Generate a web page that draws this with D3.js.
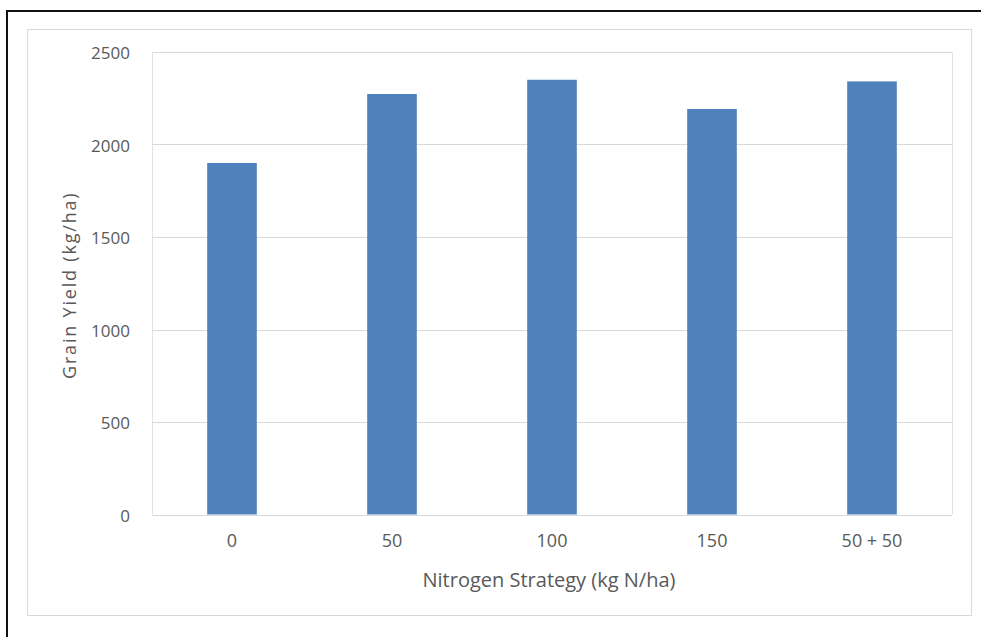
<!DOCTYPE html>
<html>
<head>
<meta charset="utf-8">
<script src="https://cdn.jsdelivr.net/npm/d3@7/dist/d3.min.js"></script>
<style>
  html, body { margin: 0; padding: 0; background: #fff; }
  svg { display: block; }
  text { font-family: "Open Sans", "Liberation Sans", sans-serif; fill: #595959; }
</style>
</head>
<body>
<div id="chart"></div>
<script>
// Grain yield by nitrogen strategy
const categories = ["0", "50", "100", "150", "50 + 50"];
const yieldValues = [1900, 2273, 2350, 2192, 2341];
const yTicks = [0, 500, 1000, 1500, 2000, 2500];
const xTitle = "Nitrogen Strategy (kg N/ha)";
const yTitle = "Grain Yield (kg/ha)";

const W = 981, H = 637;
const plot = { left: 152, right: 952, top: 52, bottom: 514.5 };
const fontStack = '"Open Sans", "Liberation Sans", sans-serif';

const svg = d3.select("#chart").append("svg")
  .attr("width", W).attr("height", H);

// Outer frame
svg.append("path")
  .attr("d", `M7,${H} V11 H${W}`)
  .attr("fill", "none").attr("stroke", "#111").attr("stroke-width", 2);

// Chart area border
svg.append("rect")
  .attr("x", 27.5).attr("y", 29.5).attr("width", 944).attr("height", 586)
  .attr("fill", "#fff").attr("stroke", "#d9d9d9").attr("stroke-width", 1);

const x = d3.scaleBand().domain(categories)
  .range([plot.left, plot.right]).paddingInner(0.69).paddingOuter(0.345);
const y = d3.scaleLinear().domain([0, 2500]).range([plot.bottom, plot.top]);

// Plot area side borders
svg.append("g").selectAll("line").data([plot.left, plot.right]).join("line")
  .attr("x1", d => d + 0.5).attr("x2", d => d + 0.5)
  .attr("y1", plot.top).attr("y2", plot.bottom)
  .attr("stroke", "#e3e3e3");

// Gridlines
svg.append("g").selectAll("line").data(yTicks).join("line")
  .attr("x1", plot.left).attr("x2", plot.right)
  .attr("y1", d => Math.round(y(d)) + 0.5).attr("y2", d => Math.round(y(d)) + 0.5)
  .attr("stroke", "#d9d9d9").attr("stroke-width", 1);

// Bars
svg.append("g").selectAll("rect").data(categories).join("rect")
  .attr("x", d => x(d))
  .attr("width", x.bandwidth())
  .attr("y", (d, i) => y(yieldValues[i]))
  .attr("height", (d, i) => y(0) - y(yieldValues[i]))
  .attr("fill", "#4f81bd");

// Y axis labels
const yAxis = d3.axisLeft(y).tickValues(yTicks).tickSize(0).tickPadding(0)
  .tickFormat(d3.format("d"));
const gy = svg.append("g").attr("transform", `translate(130,1.5)`).call(yAxis);
gy.select(".domain").remove();
gy.selectAll("text").attr("font-size", 17).attr("fill", "#595959")
  .style("font-family", fontStack);

// X axis labels
const xAxis = d3.axisBottom(x).tickSize(0).tickPadding(0);
const gx = svg.append("g").attr("transform", `translate(0,${plot.bottom + 20})`).call(xAxis);
gx.select(".domain").remove();
gx.selectAll("text").attr("font-size", 18).attr("fill", "#595959")
  .style("font-family", fontStack);

// Axis titles
svg.append("text")
  .attr("x", (plot.left + plot.right) / 2 - 3).attr("y", 587)
  .attr("text-anchor", "middle").attr("font-size", 20)
  .text(xTitle);

svg.append("text")
  .attr("transform", `translate(75.5,${(plot.top + plot.bottom) / 2 + 2}) rotate(-90)`)
  .attr("text-anchor", "middle").attr("font-size", 18)
  .attr("letter-spacing", 1.8)
  .text(yTitle);
</script>
</body>
</html>
